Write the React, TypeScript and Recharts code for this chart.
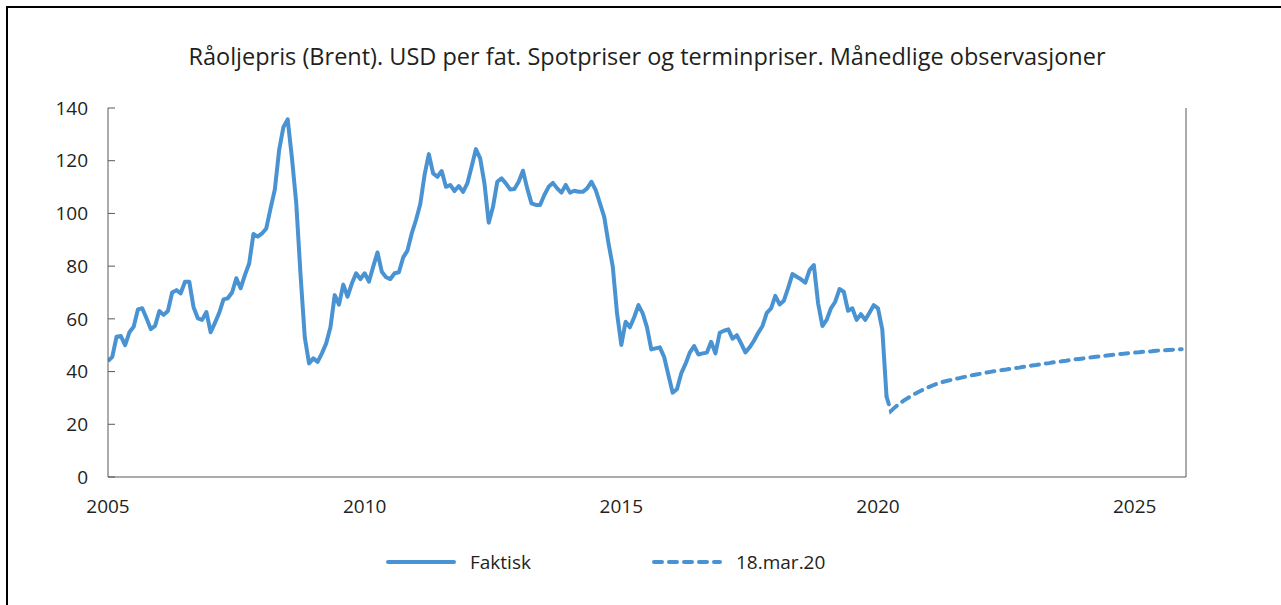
import React from 'react';
import { LineChart, Line, XAxis, YAxis, Legend } from 'recharts';

// Månedlige spotpriser, jan 2005 - mar 2020 (USD per fat)
const spot2005 = [44, 45.6, 53.2, 53.5, 50, 54.9, 57, 63.6, 64, 60.2, 56.1, 57.3];
const spot2006 = [63, 61.5, 63, 70, 70.9, 69.7, 74.1, 74.1, 64.4, 60.2, 59.6, 62.6];
const spot2007 = [54.9, 58.5, 62.3, 67.4, 67.8, 70, 75.4, 71.6, 76.6, 81, 92.2, 91.2];
const spot2008 = [92.4, 94.3, 101.9, 109.1, 124, 132.7, 135.7, 121, 104, 77, 53, 43.1];
const spot2009 = [45, 43.7, 46.9, 50.7, 56.8, 69, 65.4, 73, 68.4, 73.4, 77.3, 75.1];
const spot2010 = [77.3, 74.1, 79.8, 85.2, 77.9, 75.8, 75.1, 77.3, 77.7, 83.3, 85.9, 92.4];
const spot2011 = [97.5, 103.6, 114.6, 122.5, 115.2, 113.9, 116.1, 110.1, 110.8, 108.5, 110.4, 108.2];
const spot2012 = [111.4, 117.7, 124.4, 120.9, 111.4, 96.5, 102.5, 112, 113.3, 111.4, 109.1, 109.3];
const spot2013 = [112, 116.2, 109.5, 103.8, 103.2, 103.2, 107, 110.1, 111.6, 109.5, 107.9, 110.8];
const spot2014 = [107.9, 108.6, 108.2, 108.2, 109.5, 112, 108.9, 103.8, 98.7, 88.7, 79.8, 62];
const spot2015 = [50.1, 58.9, 56.8, 60.6, 65.2, 62.1, 56.8, 48.4, 48.8, 49.2, 45.6, 38.7];
const spot2016 = [32, 33.3, 39.3, 42.9, 47.2, 49.7, 46.5, 46.9, 47.2, 51.3, 46.9, 54.7];
const spot2017 = [55.5, 56, 52.5, 53.8, 50.7, 47.3, 49.2, 51.7, 54.7, 57.3, 62.3, 64];
const spot2018 = [68.7, 65.5, 66.9, 71.8, 77, 76, 75, 73.7, 78.5, 80.4, 65.9, 57.3];
const spot2019 = [59.6, 64, 66.5, 71.3, 70.3, 63.1, 64, 59.6, 61.8, 59.6, 62.3, 65.2];
const spot2020 = [64, 56, 30.5];

// Terminpriser per 18.mar.20, apr 2020 - des 2025
const forward2020 = [25, 26.5, 27.8, 29, 30, 31, 31.9, 32.7, 33.5];
const forward2021 = [34.2, 34.9, 35.5, 36, 36.4, 36.8, 37.2, 37.5, 37.9, 38.2, 38.6, 38.9];
const forward2022 = [39.2, 39.5, 39.8, 40.1, 40.3, 40.6, 40.8, 41.1, 41.3, 41.5, 41.8, 42];
const forward2023 = [42.3, 42.5, 42.8, 43, 43.2, 43.5, 43.7, 43.9, 44.1, 44.4, 44.6, 44.8];
const forward2024 = [45, 45.2, 45.4, 45.6, 45.8, 46, 46.2, 46.4, 46.5, 46.7, 46.9, 47];
const forward2025 = [47.2, 47.3, 47.5, 47.6, 47.7, 47.9, 48, 48.1, 48.2, 48.3, 48.4, 48.5];

const yearTicks = [2005, 2010, 2015, 2020, 2025];
const priceTicks = [0, 20, 40, 60, 80, 100, 120, 140];

const TITLE = 'Råoljepris (Brent). USD per fat. Spotpriser og terminpriser. Månedlige observasjoner';
const BLUE = '#4A93D2';
const TEXT = '#231F20';
const AXIS = '#58595B';
const FONT = '"Open Sans", "Noto Sans", sans-serif';

const spot = [
  ...spot2005, ...spot2006, ...spot2007, ...spot2008, ...spot2009, ...spot2010,
  ...spot2011, ...spot2012, ...spot2013, ...spot2014, ...spot2015, ...spot2016,
  ...spot2017, ...spot2018, ...spot2019, ...spot2020,
];
const forward = [...forward2020, ...forward2021, ...forward2022, ...forward2023, ...forward2024, ...forward2025];

type Row = { t: number; faktisk?: number; termin?: number };
const chartData: Row[] = [];
spot.forEach((v, i) => chartData.push({ t: 2005 + i / 12, faktisk: v }));
// terminkurven starter i siste observerte punkt
chartData[spot.length - 1].termin = spot[spot.length - 1];
forward.forEach((v, i) => chartData.push({ t: 2005 + (spot.length + i) / 12, termin: v }));

const LegendContent = () => (
  <div style={{ display: 'flex', paddingLeft: 386, fontFamily: FONT, fontSize: 19, color: TEXT }}>
    <div style={{ width: 266, display: 'flex', alignItems: 'center' }}>
      <svg width={70} height={10}>
        <line x1={2} y1={5} x2={68} y2={5} stroke={BLUE} strokeWidth={4} strokeLinecap="round" />
      </svg>
      <span style={{ marginLeft: 14 }}>Faktisk</span>
    </div>
    <div style={{ display: 'flex', alignItems: 'center' }}>
      <svg width={70} height={10}>
        <line x1={2} y1={5} x2={68} y2={5} stroke={BLUE} strokeWidth={4} strokeLinecap="round" strokeDasharray="8 7" />
      </svg>
      <span style={{ marginLeft: 14 }}>18.mar.20</span>
    </div>
  </div>
);

export default function App() {
  return (
    <>
      <div
        style={{
          position: 'absolute', left: 6, top: 6, width: 1275, height: 599, boxSizing: 'border-box',
          borderTop: '2px solid #000', borderLeft: '2px solid #000',
        }}
      />
      <div
        style={{
          position: 'absolute', left: 108, top: 40, width: 1078, textAlign: 'center',
          fontFamily: FONT, fontSize: 23.5, color: TEXT, whiteSpace: 'nowrap',
        }}
      >
        {TITLE}
      </div>
      <div style={{ position: 'absolute', left: 0, top: 0 }}>
        <LineChart width={1281} height={605} data={chartData} margin={{ top: 108, right: 0, left: 0, bottom: 98 }}>
          <XAxis
            dataKey="t"
            type="number"
            domain={[2005, 2026]}
            ticks={yearTicks}
            allowDataOverflow
            height={30}
            tickLine={false}
            tickSize={0}
            tickMargin={23}
            stroke={AXIS}
            tick={{ fill: TEXT, fontSize: 19, fontFamily: FONT }}
          />
          <YAxis
            yAxisId="left"
            orientation="left"
            width={108}
            domain={[0, 140]}
            ticks={priceTicks}
            tickSize={-7}
            tickMargin={27}
            stroke={AXIS}
            tick={{ fill: TEXT, fontSize: 19, fontFamily: FONT }}
          />
          <YAxis
            yAxisId="right"
            orientation="right"
            width={95}
            domain={[0, 140]}
            ticks={priceTicks}
            tickSize={-7}
            tickMargin={26}
            stroke={AXIS}
            tick={{ fill: TEXT, fontSize: 19, fontFamily: FONT, textAnchor: 'start' }}
          />
          <Legend
            layout="horizontal"
            verticalAlign="middle"
            align="center"
            width={1281}
            wrapperStyle={{ top: 549, left: 0 }}
            content={<LegendContent />}
          />
          <Line
            yAxisId="left"
            dataKey="faktisk"
            stroke={BLUE}
            strokeWidth={4}
            dot={false}
            activeDot={false}
            strokeLinejoin="round"
            isAnimationActive={false}
          />
          <Line
            yAxisId="left"
            dataKey="termin"
            stroke={BLUE}
            strokeWidth={4}
            strokeDasharray="8 7"
            strokeLinecap="round"
            dot={false}
            activeDot={false}
            isAnimationActive={false}
          />
        </LineChart>
      </div>
    </>
  );
}
